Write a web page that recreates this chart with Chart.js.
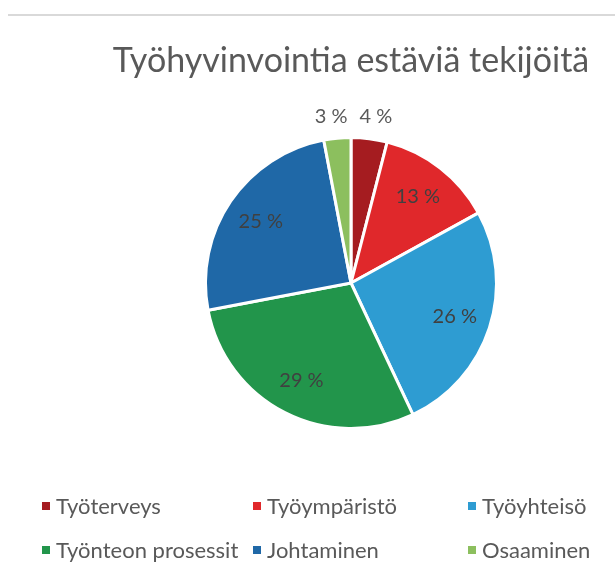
<!DOCTYPE html>
<html>
<head>
<meta charset="utf-8">
<script src="https://cdn.jsdelivr.net/npm/chart.js@4/dist/chart.umd.min.js"></script>
<style>
html,body{margin:0;padding:0;background:#fff;}
#wrap{position:relative;width:615px;height:578px;}
</style>
</head>
<body>
<div id="wrap"><canvas id="c" width="615" height="578"></canvas></div>
<script>
const title = 'Työhyvinvointia estäviä tekijöitä';
const categories = ['Työterveys', 'Työympäristö', 'Työyhteisö', 'Työnteon prosessit', 'Johtaminen', 'Osaaminen'];
const values = [4, 13, 26, 29, 25, 3];
const colors = ['#A51C20', '#E0282B', '#2E9CD2', '#22954B', '#1F68A7', '#8CBF5E'];
const outsideLabel = [true, false, false, false, false, true];

const FONT = 'Lato, "Open Sans", sans-serif';

const decor = {
  id: 'decor',
  beforeDraw(chart) {
    const ctx = chart.ctx;
    ctx.save();
    ctx.fillStyle = '#fff';
    ctx.fillRect(0, 0, chart.width, chart.height);
    ctx.strokeStyle = '#D9D9D9';
    ctx.lineWidth = 2;
    ctx.beginPath();
    ctx.moveTo(8, 15);
    ctx.lineTo(chart.width, 15);
    ctx.stroke();
    // title
    ctx.fillStyle = '#595959';
    ctx.font = '34px ' + FONT;
    ctx.textAlign = 'center';
    ctx.textBaseline = 'alphabetic';
    ctx.fillText(title, 351, 72);
    ctx.restore();
  },
  afterDatasetsDraw(chart) {
    const ctx = chart.ctx;
    const meta = chart.getDatasetMeta(0);
    const data = chart.data.datasets[0].data;
    ctx.save();
    ctx.font = '20px ' + FONT;
    ctx.textAlign = 'center';
    ctx.textBaseline = 'middle';
    meta.data.forEach((arc, i) => {
      const p = arc.getProps(['x', 'y', 'startAngle', 'endAngle', 'outerRadius'], true);
      const mid = (p.startAngle + p.endAngle) / 2;
      let r, col, nudge = 0;
      if (outsideLabel[i]) { r = p.outerRadius + 22; col = '#595959'; nudge = Math.sign(Math.cos(mid)) * 4; }
      else { r = p.outerRadius * 0.75; col = '#404040'; }
      const x = p.x + Math.cos(mid) * r + nudge;
      const y = p.y + Math.sin(mid) * r;
      ctx.fillStyle = col;
      ctx.fillText(data[i] + ' %', x, y);
    });
    // legend
    const colX = [42, 253, 468];
    const rowY = [506, 550];
    ctx.font = '22px ' + FONT;
    ctx.textAlign = 'left';
    ctx.textBaseline = 'middle';
    chart.data.labels.forEach((lab, i) => {
      const cx = colX[i % 3], cy = rowY[Math.floor(i / 3)];
      ctx.fillStyle = chart.data.datasets[0].backgroundColor[i];
      ctx.fillRect(cx, cy - 4, 8, 8);
      ctx.fillStyle = '#595959';
      ctx.fillText(lab, cx + 14, cy + 1);
    });
    ctx.restore();
  }
};

new Chart(document.getElementById('c'), {
  type: 'pie',
  data: {
    labels: categories,
    datasets: [{
      data: values,
      backgroundColor: colors,
      borderColor: '#ffffff',
      borderWidth: 3,
      hoverOffset: 0,
      offset: 0
    }]
  },
  options: {
    responsive: false,
    animation: false,
    layout: { padding: { left: 204, right: 117, top: 136, bottom: 148 } },
    plugins: {
      legend: { display: false },
      title: { display: false },
      tooltip: { enabled: false }
    },
    events: []
  },
  plugins: [decor]
});
</script>
</body>
</html>
